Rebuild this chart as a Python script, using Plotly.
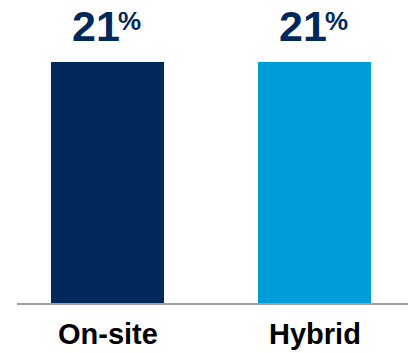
import plotly.graph_objects as go

categories = ["On-site", "Hybrid"]
values = [21, 21]
colors = ["#00285A", "#009CD9"]

W, H = 411, 353
m_t, m_b, m_l, m_r = 20, 50, 17, 3
plot_h = H - m_t - m_b
# bar top should sit at pixel 62 (from top), baseline at 303
y_max = values[0] * plot_h / (H - m_b - 62)
FONT = "Liberation Sans"

fig = go.Figure()
fig.add_trace(go.Bar(
    x=[0, 1], y=values, marker=dict(color=colors, line=dict(width=0)),
    width=0.546, hoverinfo="skip",
))

for i, v in enumerate(values):
    fig.add_annotation(
        x=i, y=v, xref="x", yref="y", text=f"<b>{v}</b>",
        showarrow=False, yanchor="bottom", xanchor="right", yshift=10, xshift=14,
        font=dict(family=FONT, size=43, color="#00285A"),
    )
    fig.add_annotation(
        x=i, y=v, xref="x", yref="y", text="<b>%</b>",
        showarrow=False, yanchor="top", xanchor="left", yshift=58, xshift=8,
        font=dict(family=FONT, size=26, color="#00285A"),
    )
    fig.add_annotation(
        x=i, y=0, xref="x", yref="y", text=f"<b>{categories[i]}</b>",
        showarrow=False, yanchor="top", xanchor="center", yshift=-13,
        font=dict(family=FONT, size=29, color="#000000"),
    )

fig.update_layout(
    width=W, height=H, margin=dict(l=m_l, r=m_r, t=m_t, b=m_b),
    paper_bgcolor="white", plot_bgcolor="white", showlegend=False,
    xaxis=dict(range=[-90.5 / 207, 1 + 93.5 / 207], showticklabels=False,
               showgrid=False, zeroline=False, showline=True,
               linecolor="#A0A0A0", linewidth=2, fixedrange=True),
    yaxis=dict(range=[0, y_max], visible=False, fixedrange=True),
)

fig.write_html("out.html", config={"displayModeBar": False})
